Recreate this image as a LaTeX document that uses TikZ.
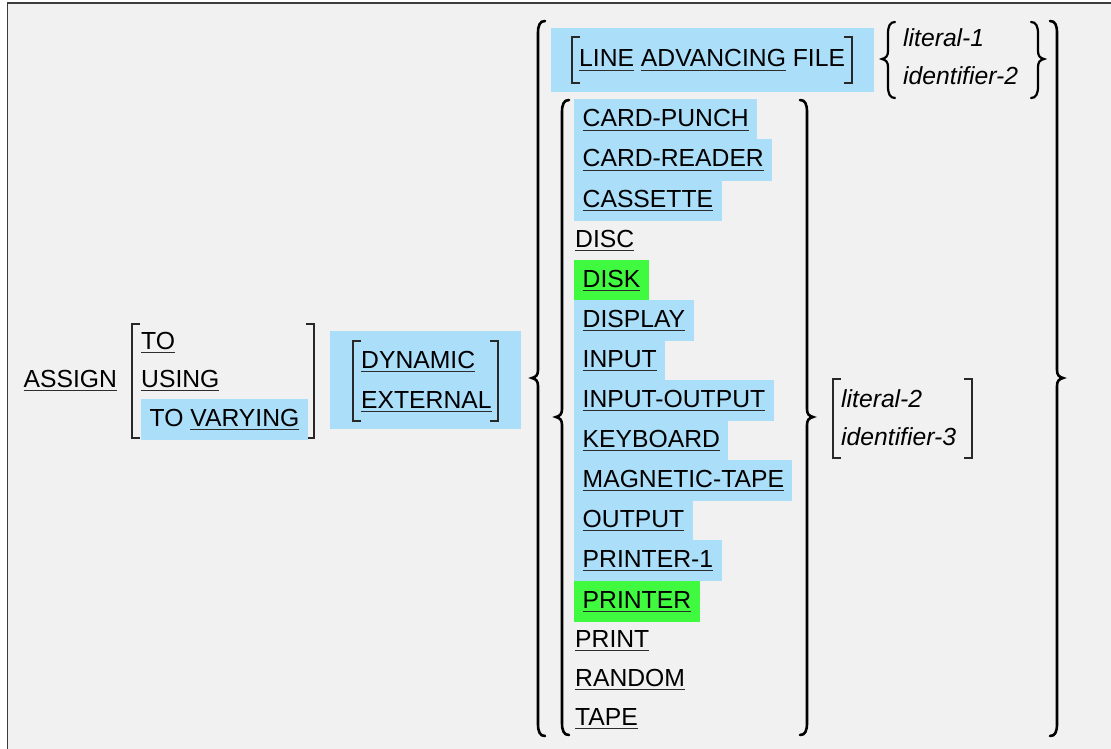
\documentclass[tikz,border=0pt]{standalone}
\usepackage{fontspec}
\setmainfont{Liberation Sans}
\definecolor{pagebg}{RGB}{241,241,241}
\definecolor{framecol}{RGB}{60,60,60}
\definecolor{hlblue}{RGB}{170,222,249}
\definecolor{hlgreen}{RGB}{64,250,64}
\definecolor{ulcol}{RGB}{45,45,45}
\definecolor{brkcol}{RGB}{40,40,40}
% underlined keyword
\newcommand\kw[1]{\setbox0=\hbox{#1}\rlap{\textcolor{ulcol}{\rule[-4.4pt]{\wd0}{1.4pt}}}\box0\relax}
% tall curly braces: [options]{x}{top}{bottom}{middle}
\newcommand\lbrc[5][]{\draw[brc,#1] ({#2+7},#3) .. controls ({#2+2},#3) and (#2,{#3+4}) .. (#2,{#3+12})
  -- (#2,{#5-8}) .. controls (#2,{#5-3}) and ({#2-2},{#5-1}) .. ({#2-6},#5)
  .. controls ({#2-2},{#5+1}) and (#2,{#5+3}) .. (#2,{#5+8})
  -- (#2,{#4-12}) .. controls (#2,{#4-4}) and ({#2+2},#4) .. ({#2+7},#4);}
\newcommand\rbrc[5][]{\draw[brc,#1] ({#2-7},#3) .. controls ({#2-2},#3) and (#2,{#3+4}) .. (#2,{#3+12})
  -- (#2,{#5-8}) .. controls (#2,{#5-3}) and ({#2+2},{#5-1}) .. ({#2+6},#5)
  .. controls ({#2+2},{#5+1}) and (#2,{#5+3}) .. (#2,{#5+8})
  -- (#2,{#4-12}) .. controls (#2,{#4-4}) and ({#2-2},#4) .. ({#2-7},#4);}
% square brackets: {x}{top}{bottom}
\newcommand\lbrk[3]{\draw[brk] ({#1+8},#2) -- (#1,#2) -- (#1,#3) -- ({#1+8},#3);}
\newcommand\rbrk[3]{\draw[brk] ({#1-8},#2) -- (#1,#2) -- (#1,#3) -- ({#1-8},#3);}
\begin{document}
\begin{tikzpicture}[x=1pt,y=-1pt,
  font=\fontsize{24.7}{30}\selectfont,
  txt/.style={inner sep=0pt, anchor=base west},
  hl/.style={fill=hlblue, inner xsep=8.5pt, inner ysep=0pt, text height=27.5pt, text depth=13.5pt, anchor=base west},
  hlg/.style={hl, fill=hlgreen},
  lit/.style={txt, font=\fontsize{24.7}{30}\selectfont\itshape},
  panel/.style={fill=hlblue, inner sep=0pt},
  brc/.style={line width=2.6pt, black, line cap=round},
  brk/.style={line width=1.3pt, brkcol}]
\path[use as bounding box] (0,0) rectangle (1111,749);
\fill[white] (0,0) rectangle (1111,749);
\fill[pagebg] (7.5,3.3) rectangle (1115,753);
\draw[framecol, line width=1.6pt] (7.5,753) -- (7.5,3.3) -- (1115,3.3);

% blue panels
\node[panel, minimum width=191pt, minimum height=98pt] (dynpanel) at (425.5,380) {};
\node[panel, minimum width=323pt, minimum height=64pt] (filepanel) at (712.5,60) {};

% ASSIGN and its phrase options
\node[txt] (assign) at (23.4,387) {\kw{ASSIGN}};
\lbrk{132}{324}{438}
\rbrk{314}{324}{438}
\node[txt] (to) at (141,349) {\kw{TO}};
\node[txt] (using) at (141,387) {\kw{USING}};
\node[hl] (tovarying) at (141,426) {TO \kw{VARYING}};

% DYNAMIC / EXTERNAL
\lbrk{353}{341}{421}
\rbrk{498}{341}{421}
\node[txt] (dynamic) at (361,368) {\kw{DYNAMIC}};
\node[txt] (external) at (361,408) {\kw{EXTERNAL}};

% outer braces
\lbrc{538}{21}{736}{378}
\rbrc{1057}{21}{736}{378}

% LINE ADVANCING FILE
\lbrk{572}{37}{83}
\rbrk{852}{37}{83}
\node[txt] (lineadv) at (579,67) {\kw{LINE} \kw{ADVANCING} FILE};
\lbrc[line width=2.2pt]{888}{22}{98}{59}
\rbrc[line width=2.2pt]{1038}{22}{98}{59}
\node[lit] (lit1) at (903,47) {literal-1};
\node[lit] (id2) at (903,85) {identifier-2};

% device names
\lbrc{562}{100}{735}{417}
\rbrc{807}{100}{735}{417}
\node[hl] (cardpunch) at (574,127) {\kw{CARD-PUNCH}};
\node[hl] (cardreader) at (574,167) {\kw{CARD-READER}};
\node[hl] (cassette) at (574,207) {\kw{CASSETTE}};
\node[txt] (disc) at (575,247) {\kw{DISC}};
\node[hlg] (disk) at (574,287) {\kw{DISK}};
\node[hl] (display) at (574,327) {\kw{DISPLAY}};
\node[hl] (input) at (574,367) {\kw{INPUT}};
\node[hl] (inout) at (574,407) {\kw{INPUT-OUTPUT}};
\node[hl] (keyboard) at (574,447) {\kw{KEYBOARD}};
\node[hl] (magtape) at (574,487) {\kw{MAGNETIC-TAPE}};
\node[hl] (output) at (574,527) {\kw{OUTPUT}};
\node[hl] (printer1) at (574,567) {\kw{PRINTER-1}};
\node[hlg] (printer) at (574,608) {\kw{PRINTER}};
\node[txt] (print) at (575,647) {\kw{PRINT}};
\node[txt] (random) at (575,686) {\kw{RANDOM}};
\node[txt] (tape) at (575,725) {\kw{TAPE}};

% literal-2 / identifier-3
\lbrk{833}{379}{458}
\rbrk{972}{379}{458}
\node[lit] (lit2) at (841,407) {literal-2};
\node[lit] (id3) at (841,445) {identifier-3};
\end{tikzpicture}
\end{document}
